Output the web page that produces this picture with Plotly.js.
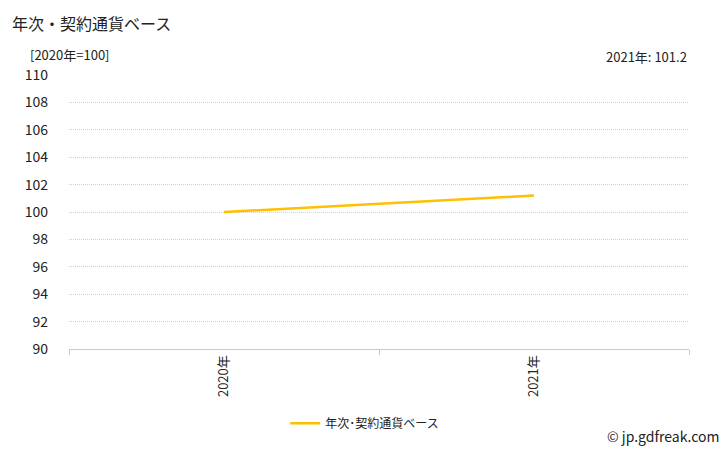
<!DOCTYPE html>
<html><head><meta charset="utf-8">
<script src="https://cdn.plot.ly/plotly-3.0.1.min.js"></script>
<style>html,body{margin:0;padding:0;background:#fff}#c{width:728px;height:450px}</style>
</head><body><div id="c"></div>
<script>
var categories = ["2020年", "2021年"];
var values = [100.0, 101.2];
var seriesName = "年次･契約通貨ベース";
var yTicks = [90, 92, 94, 96, 98, 100, 102, 104, 106, 108, 110];

var F = '"Noto Sans CJK JP", "Noto Sans", sans-serif';
var trace = {
  x: categories, y: values, type: 'scatter', mode: 'lines', name: seriesName,
  line: {color: '#FFC000', width: 2.5}
};
var layout = {
  width: 728, height: 450,
  margin: {l: 69, r: 39, t: 75, b: 98},
  paper_bgcolor: '#fff', plot_bgcolor: '#fff',
  font: {family: F, size: 13, color: '#222'},
  showlegend: true,
  legend: {orientation: 'h', x: 0.477, xanchor: 'center', xref: 'paper', y: -0.271, yanchor: 'middle', font: {size: 12, family: F}, itemwidth: 30},
  xaxis: {
    type: 'category', range: [-0.5, 1.5], tickson: 'boundaries',
    showgrid: false, showline: true, linecolor: '#c8c8c8', linewidth: 1,
    ticks: 'outside', ticklen: 5, tickcolor: '#c8c8c8',
    tickangle: -90, tickfont: {size: 13, family: F, color: '#222'}
  },
  yaxis: {
    range: [90, 110], tickvals: yTicks, ticktext: yTicks.map(String),
    showgrid: true, gridcolor: '#cfcfcf', griddash: '1px,1px', gridwidth: 1,
    zeroline: false, showline: false, ticks: '', ticklabelstandoff: 20,
    tickfont: {size: 14, family: F, color: '#222'}
  },
  annotations: [
    {text: '年次・契約通貨ベース', xref: 'paper', yref: 'paper', x: -0.095, y: 1.191, xanchor: 'left', yanchor: 'middle', showarrow: false, font: {size: 16, family: F, color: '#222'}},
    {text: '[2020年=100]', xref: 'paper', yref: 'paper', x: -0.066, y: 1.073, xanchor: 'left', yanchor: 'middle', showarrow: false, font: {size: 13, family: F, color: '#222'}},
    {text: '2021年: 101.2', xref: 'paper', yref: 'paper', x: 1.0, y: 1.068, xanchor: 'right', yanchor: 'middle', showarrow: false, font: {size: 13, family: F, color: '#222'}},
    {text: '© jp.gdfreak.com', xref: 'paper', yref: 'paper', x: 1.053, y: -0.318, xanchor: 'right', yanchor: 'middle', showarrow: false, font: {size: 14, family: F, color: '#222'}}
  ]
};
Plotly.newPlot('c', [trace], layout, {displayModeBar: false, staticPlot: true});
</script></body></html>
